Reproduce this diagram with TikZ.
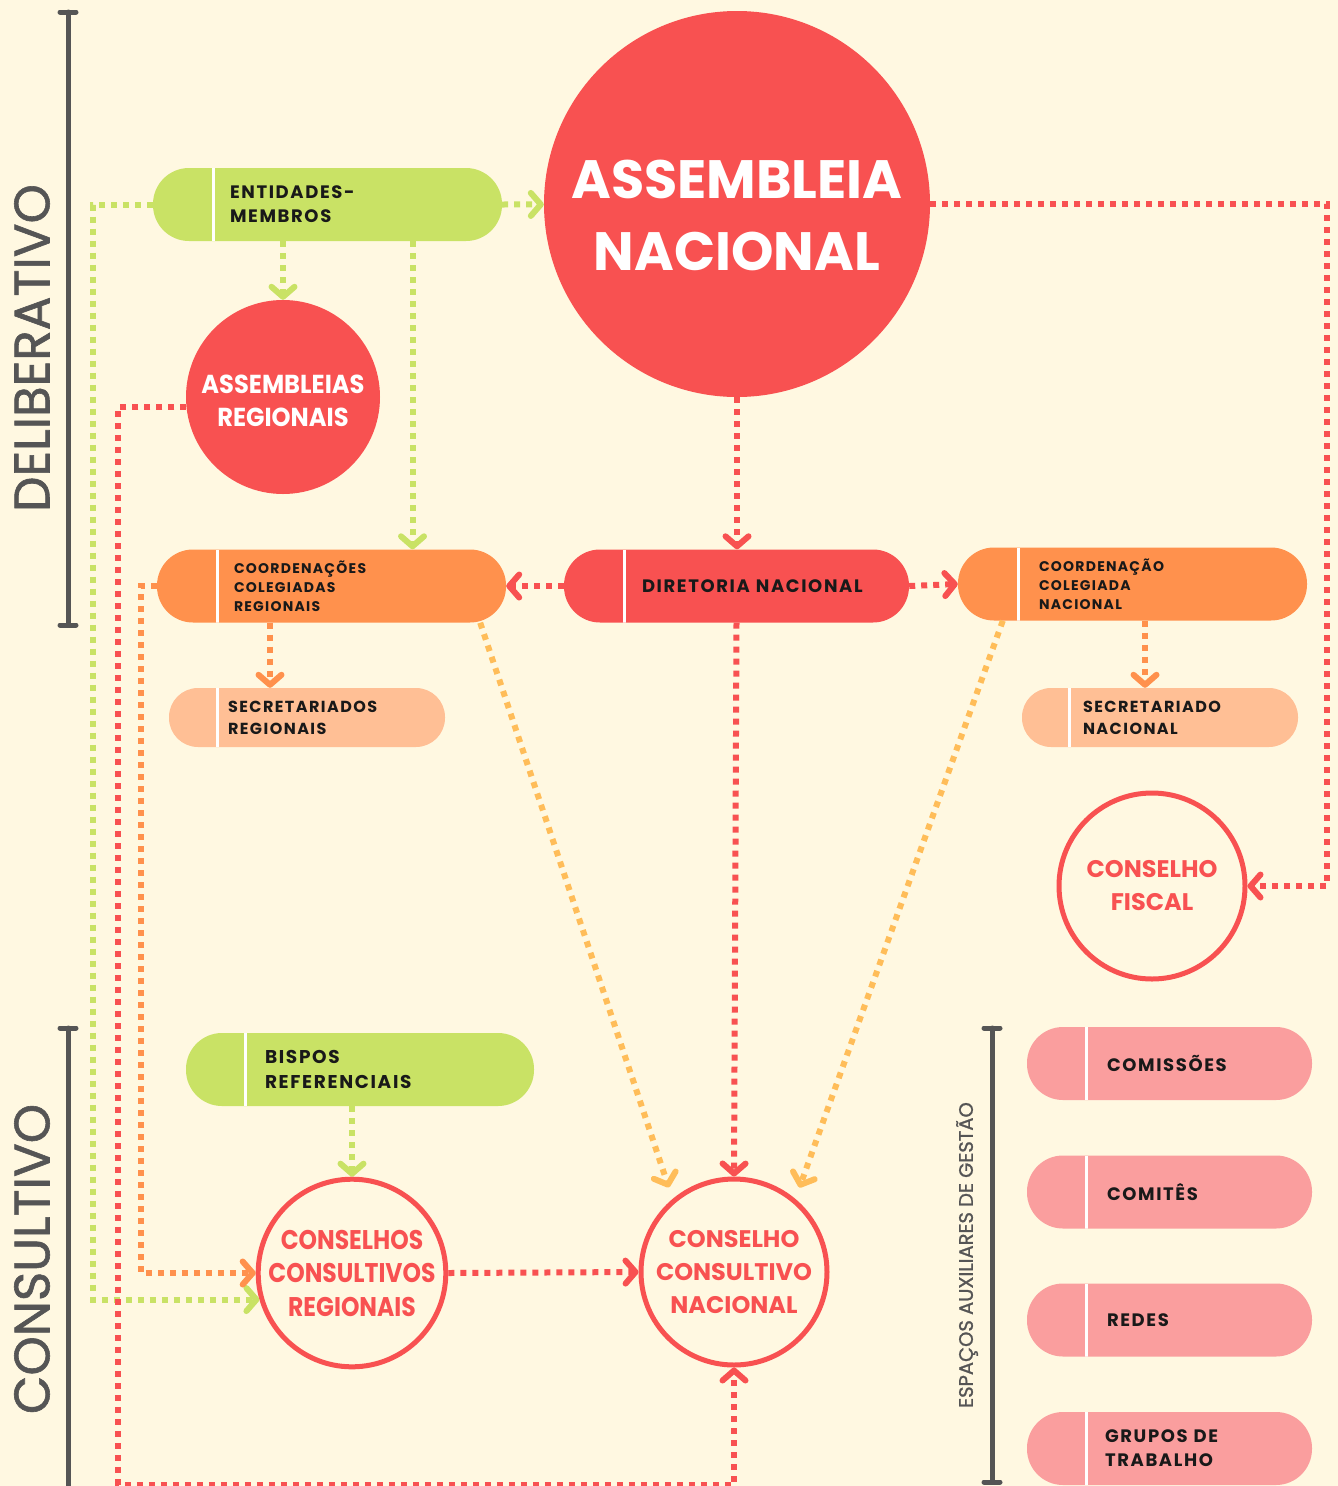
\documentclass[tikz,border=0pt]{standalone}
\usepackage{fontspec}
\setmainfont{Poppins}
\newfontfamily\lblfont{Poppins}[LetterSpace=9]
\newfontfamily\headfont{Poppins}[FakeBold=1.2]
\newfontfamily\condfont{Poppins}[FakeStretch=0.87]
\newfontfamily\semifont{Poppins}[FakeStretch=0.93]
\usetikzlibrary{arrows.meta}
\hyphenpenalty=10000
\exhyphenpenalty=10000

\definecolor{cream}{HTML}{FFF8E1}
\definecolor{tomato}{HTML}{F85151}
\definecolor{lime}{HTML}{C9E265}
\definecolor{tangerine}{HTML}{FF914D}
\definecolor{peach}{HTML}{FFBF95}
\definecolor{rose}{HTML}{FA9E9E}
\definecolor{amber}{HTML}{FFBD59}
\definecolor{slate}{HTML}{555555}

\begin{document}
\begin{tikzpicture}[x=1pt, y=-1pt,
  divider/.style={path picture={\draw[white, line width=3pt] ([xshift=#1]path picture bounding box.north west) -- ([xshift=#1]path picture bounding box.south west);}},
  bigpill/.style={rectangle, rounded corners=36pt, minimum height=73pt, inner xsep=77pt, inner ysep=0pt, text width=195pt, align=left, divider=60pt, text=black!90, font=\lblfont\bfseries\fontsize{18}{24}\selectfont},
  smallpill/.style={rectangle, rounded corners=29pt, minimum height=59pt, inner xsep=59pt, inner ysep=0pt, text width=158pt, align=left, divider=48pt, fill=peach, text=black!90, font=\lblfont\bfseries\fontsize{16}{22}\selectfont},
  pinkpill/.style={bigpill, text width=125pt, inner xsep=80pt, fill=rose, divider=59pt},
  disc/.style={circle, inner sep=0pt, fill=tomato, text=white, align=center},
  ring/.style={circle, inner sep=0pt, draw=tomato, line width=5pt, fill=cream, text=tomato, align=center},
  link/.style={line width=6pt, dash pattern=on 6pt off 6pt, -{Straight Barb[length=10pt, width=23pt, round]}},
  bracket/.style={slate, line width=5pt, line cap=round},
  side/.style={rotate=90, text=slate, inner sep=0pt}
]
  \useasboundingbox (0,0) rectangle (1338,1486);
  \fill[cream] (0,0) rectangle (1338,1486);

  % side brackets
  \draw[bracket] (60,12) -- (76,12) (68,12) -- (68,625) (60,625) -- (76,625);
  \draw[bracket] (60,1028) -- (76,1028) (68,1028) -- (68,1490);
  \draw[bracket] (984,1028) -- (1000,1028) (992,1028) -- (992,1482) (984,1482) -- (1000,1482);
  \draw (32,348) node[side, font=\headfont\fontsize{50}{50}\selectfont](delib){DELIBERATIVO};
  \draw (32,1259) node[side, font=\headfont\fontsize{50}{50}\selectfont](consult){CONSULTIVO};
  \draw (967,1255) node[side, font=\headfont\fontsize{19.5}{19.5}\selectfont](espacos){ESPAÇOS AUXILIARES DE GESTÃO};

  % nodes
  \draw (737,204) node[disc, minimum size=386pt, font=\bfseries\fontsize{54}{72}\selectfont](an){\rule{0pt}{62pt}ASSEMBLEIA\\NACIONAL};
  \draw (327.5,204.5) node[bigpill, fill=lime](ent){ENTIDADES-\\MEMBROS};
  \draw (283,397) node[disc, minimum size=194pt, font=\semifont\bfseries\fontsize{26}{33}\selectfont](ar){\rule{0pt}{27pt}ASSEMBLEIAS\\REGIONAIS};
  \draw (331.5,586) node[bigpill, fill=tangerine, font=\lblfont\bfseries\fontsize{14}{19}\selectfont](ccr){COORDENAÇÕES\\COLEGIADAS\\REGIONAIS};
  \draw (736.5,586) node[bigpill, fill=tomato, inner xsep=78pt, text width=189pt](dn){DIRETORIA~NACIONAL};
  \draw (1132.5,584) node[bigpill, fill=tangerine, inner xsep=81pt, text width=187pt, font=\lblfont\bfseries\fontsize{14}{19}\selectfont](cnac){COORDENAÇÃO\\COLEGIADA\\NACIONAL};
  \draw (307,717.5) node[smallpill](sr){SECRETARIADOS\\REGIONAIS};
  \draw (1160,717.5) node[smallpill, inner xsep=61pt, text width=154pt, divider=47pt](sn){SECRETARIADO\\NACIONAL};
  \draw (1152,886) node[ring, minimum size=186pt, font=\bfseries\fontsize{24}{33}\selectfont](cf){CONSELHO\\FISCAL};
  \draw (360,1069.5) node[bigpill, fill=lime, inner xsep=79pt, text width=190pt, divider=59pt, font=\lblfont\bfseries\fontsize{18.5}{25}\selectfont](bis){BISPOS\\REFERENCIAIS};
  \draw (352,1273) node[ring, minimum size=186pt, font=\condfont\bfseries\fontsize{27}{33.5}\selectfont](ccreg){CONSELHOS\\CONSULTIVOS\\REGIONAIS};
  \draw (734,1272) node[ring, minimum size=186pt, font=\bfseries\fontsize{24}{33}\selectfont](ccn){CONSELHO\\CONSULTIVO\\NACIONAL};
  \draw (1169.5,1063.5) node[pinkpill](com){COMISSÕES};
  \draw (1169.5,1192) node[pinkpill](cmt){COMITÊS};
  \draw (1169.5,1320) node[pinkpill](red){REDES};
  \draw (1169.5,1448.5) node[pinkpill, inner xsep=78pt, text width=129pt](gt){GRUPOS~DE\\TRABALHO};

  % connectors
  \draw[link, lime] (ent.east) -- (an);
  \draw[link, lime] (ent.south -| ar.north) -- (ar.north);
  \draw[link, lime] ([xshift=85pt]ent.south) -- ([xshift=85pt]ent.south |- ccr.north);
  \draw[link, lime] (ent.west) -- ++(-60,0) |- (ccreg.196);
  \draw[link, lime] (bis.south -| ccreg.north) -- (ccreg.north);
  \draw[link, tomato] (ar.186) -- ++(-68,0) |- ([yshift=-117pt]ccn.south) -- (ccn.south);
  \draw[link, tomato] (an.east) -- ++(397,0) |- (cf.east);
  \draw[link, tomato] (an.south) -- (an.south |- dn.north);
  \draw[link, tomato] (dn.west) -- (ccr.east);
  \draw[link, tomato] (dn.east) -- (cnac.west);
  \draw[link, tomato] (dn.south) -- (ccn.north);
  \draw[link, tomato] (ccreg.east) -- (ccn.west);
  \draw[link, tangerine] ([xshift=-61.5pt]ccr.south) -- ([xshift=-61.5pt]ccr.south |- sr.north);
  \draw[link, tangerine] ([xshift=12.5pt]cnac.south) -- ([xshift=12.5pt]cnac.south |- sn.north);
  \draw[link, tangerine] (ccr.west) -- ++(-16,0) |- (ccreg.west);
  \draw[link, amber, shorten >=12pt] ([xshift=-26pt]ccr.south east) -- (ccn.130);
  \draw[link, amber, shorten >=12pt] ([xshift=45pt]cnac.south west) -- (ccn.50);
\end{tikzpicture}
\end{document}
